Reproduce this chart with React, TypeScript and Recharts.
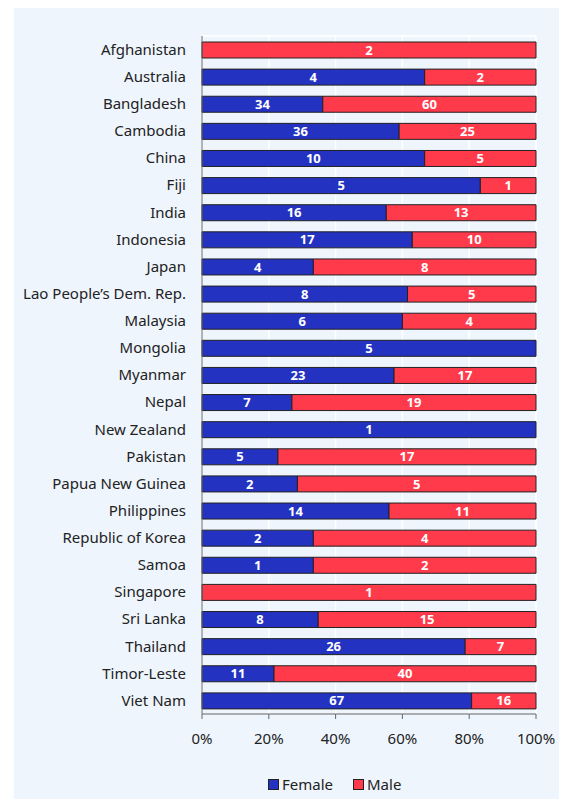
import React from 'react';
import { BarChart, Bar, XAxis, YAxis, CartesianGrid, LabelList } from 'recharts';

const countries = [
  'Afghanistan', 'Australia', 'Bangladesh', 'Cambodia', 'China', 'Fiji', 'India', 'Indonesia',
  'Japan', 'Lao People’s Dem. Rep.', 'Malaysia', 'Mongolia', 'Myanmar', 'Nepal', 'New Zealand',
  'Pakistan', 'Papua New Guinea', 'Philippines', 'Republic of Korea', 'Samoa', 'Singapore',
  'Sri Lanka', 'Thailand', 'Timor-Leste', 'Viet Nam',
];
const female = [0, 4, 34, 36, 10, 5, 16, 17, 4, 8, 6, 5, 23, 7, 1, 5, 2, 14, 2, 1, 0, 8, 26, 11, 67];
const male = [2, 2, 60, 25, 5, 1, 13, 10, 8, 5, 4, 0, 17, 19, 0, 17, 5, 11, 4, 2, 1, 15, 7, 40, 16];
const xTicks = [0, 0.2, 0.4, 0.6, 0.8, 1];
const boundaryTicks = countries.map((_, i) => i).concat(countries.length);

const series = [
  { key: 'female', name: 'Female', color: '#2432c2' },
  { key: 'male', name: 'Male', color: '#ff3a4b' },
];

const data = countries.map((country, i) => ({ country, female: female[i], male: male[i] }));

const font = '"Noto Sans", sans-serif';
const hideZero = (v: any) => (v ? v : '');

export default function App() {
  return (
    <div style={{ position: 'relative', marginLeft: 6, width: 552, height: 791, background: '#eef5fd', fontFamily: font }}>
      <BarChart
        width={552}
        height={791}
        data={data}
        layout="vertical"
        stackOffset="expand"
        barSize={16}
        margin={{ top: 28, right: 30, bottom: 55, left: 0 }}
      >
        <CartesianGrid
          stroke="#ffffff"
          strokeWidth={1.5}
          horizontalCoordinatesGenerator={({ offset }: any) => [offset.top]}
        />
        <XAxis
          type="number"
          domain={[0, 1]}
          ticks={xTicks}
          tickFormatter={(v: number) => `${Math.round(v * 100)}%`}
          tick={{ fill: '#222', fontSize: 15, fontFamily: font }}
          stroke="#666"
          tickSize={5}
          tickMargin={14}
          height={30}
        />
        <YAxis
          yAxisId="bounds"
          type="number"
          domain={[0, countries.length]}
          ticks={boundaryTicks}
          tickFormatter={() => ''}
          axisLine={false}
          stroke="#666"
          tickSize={5}
          width={0}
          allowDataOverflow
        />
        <YAxis
          yAxisId="cat"
          type="category"
          dataKey="country"
          width={188}
          tickLine={false}
          tickSize={6}
          tickMargin={10}
          stroke="#666"
          interval={0}
          tick={{ fill: '#222', fontSize: 15, fontFamily: font }}
        />
        {series.map((s) => (
          <Bar
            key={s.key}
            dataKey={s.key}
            name={s.name}
            yAxisId="cat"
            stackId="a"
            fill={s.color}
            stroke="#222"
            strokeWidth={1}
            isAnimationActive={false}
          >
            <LabelList
              dataKey={s.key}
              position="center"
              formatter={hideZero}
              fill="#ffffff"
              fontSize={13}
              fontWeight="bold"
              fontFamily={font}
            />
          </Bar>
        ))}
      </BarChart>
      <div style={{ position: 'absolute', left: 254, top: 766, display: 'flex', gap: 20, fontSize: 15, color: '#222' }}>
        {series.map((s) => (
          <div key={s.key} style={{ display: 'flex', alignItems: 'center', gap: 3 }}>
            <span style={{ width: 9, height: 9, background: s.color, border: '1px solid #222', display: 'inline-block' }} />
            <span>{s.name}</span>
          </div>
        ))}
      </div>
    </div>
  );
}
